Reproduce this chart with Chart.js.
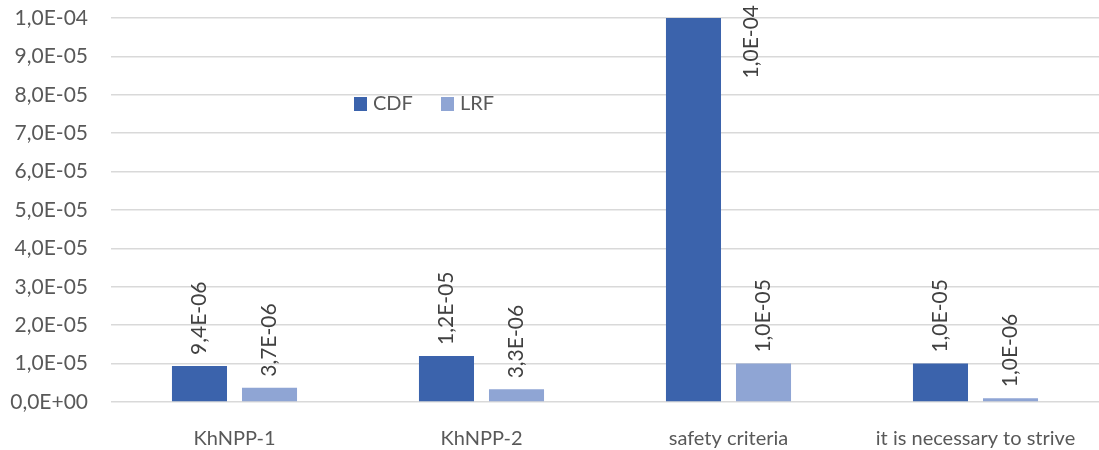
<!DOCTYPE html>
<html lang="en">
<head>
<meta charset="UTF-8">
<title>CDF and LRF</title>
<script src="https://cdn.jsdelivr.net/npm/chart.js"></script>
<style>
  body { margin: 0; background: #fff; }
  #wrap { width: 1099px; height: 450px; }
</style>
</head>
<body>
<div id="wrap"><canvas id="chart" width="1099" height="450"></canvas></div>
<script>
const categories = ['KhNPP-1', 'KhNPP-2', 'safety criteria', 'it is necessary to strive'];
const seriesNames = ['CDF', 'LRF'];
const cdfValues = [9.4e-6, 1.2e-5, 1.0e-4, 1.0e-5];
const lrfValues = [3.7e-6, 3.3e-6, 1.0e-5, 1.0e-6];
const yMax = 1.0e-4;
const yStep = 1.0e-5;

const colors = ['#3B63AC', '#8FA5D4'];
const FONT = 'Lato, "Noto Sans", sans-serif';

// 1.2e-5 -> "1,2E-05"
function sci(v) {
  if (Math.abs(v) < 1e-20) return '0,0E+00';
  const [m, e] = v.toExponential(1).split('e');
  const n = parseInt(e, 10);
  const sign = n < 0 ? '-' : '+';
  return m.replace('.', ',') + 'E' + sign + String(Math.abs(n)).padStart(2, '0');
}

// rotated value labels above each bar
const barLabels = {
  id: 'barLabels',
  afterDatasetsDraw(chart) {
    const ctx = chart.ctx;
    ctx.save();
    ctx.font = '21px ' + FONT;
    ctx.fillStyle = '#404040';
    ctx.textBaseline = 'middle';
    chart.data.datasets.forEach((ds, di) => {
      chart.getDatasetMeta(di).data.forEach((bar, i) => {
        const txt = sci(ds.data[i]);
        const w = ctx.measureText(txt).width;
        let x = bar.x, y = bar.y - 11, align = 'left';
        if (y - w < 0) {
          // no room above: put it beside the bar, hanging from the top
          x = bar.x + bar.width / 2 + 30;
          y = 5;
          align = 'right';
        }
        ctx.save();
        ctx.translate(x, y);
        ctx.rotate(-Math.PI / 2);
        ctx.textAlign = align;
        ctx.fillText(txt, 0, 0);
        ctx.restore();
      });
    });
    ctx.restore();
  }
};

// legend floating inside the plot area
const innerLegend = {
  id: 'innerLegend',
  afterDraw(chart) {
    const ctx = chart.ctx;
    const items = [{ x: 354 }, { x: 441 }];
    ctx.save();
    ctx.font = '20px ' + FONT;
    ctx.textBaseline = 'middle';
    items.forEach((it, i) => {
      ctx.fillStyle = colors[i];
      ctx.fillRect(it.x, 97, 13, 14);
      ctx.fillStyle = '#595959';
      ctx.fillText(seriesNames[i], it.x + 19, 104);
    });
    ctx.restore();
  }
};

new Chart(document.getElementById('chart'), {
  type: 'bar',
  data: {
    labels: categories,
    datasets: [
      { label: seriesNames[0], data: cdfValues, backgroundColor: colors[0] },
      { label: seriesNames[1], data: lrfValues, backgroundColor: colors[1] }
    ]
  },
  options: {
    responsive: false,
    animation: false,
    layout: { padding: { top: 18, right: 0, left: 0, bottom: 0 } },
    datasets: { bar: { categoryPercentage: 0.567, barPercentage: 0.786 } },
    scales: {
      x: {
        grid: { display: false, drawTicks: false },
        border: { display: false },
        ticks: { color: '#595959', font: { family: FONT, size: 20 }, padding: 25, maxRotation: 0 },
        afterFit(s) { s.height = 48; s.paddingLeft = 0; s.paddingRight = 0; }
      },
      y: {
        min: 0,
        max: yMax,
        grid: { color: '#D9D9D9', lineWidth: 1.5, drawTicks: false },
        border: { display: false },
        ticks: {
          stepSize: yStep,
          color: '#595959',
          font: { family: FONT, size: 21 },
          padding: 23,
          callback: v => sci(v)
        },
        afterFit(s) { s.width = 111; s.paddingTop = 0; s.paddingBottom = 0; }
      }
    },
    plugins: {
      legend: { display: false },
      tooltip: { enabled: false }
    }
  },
  plugins: [barLabels, innerLegend]
});
</script>
</body>
</html>
